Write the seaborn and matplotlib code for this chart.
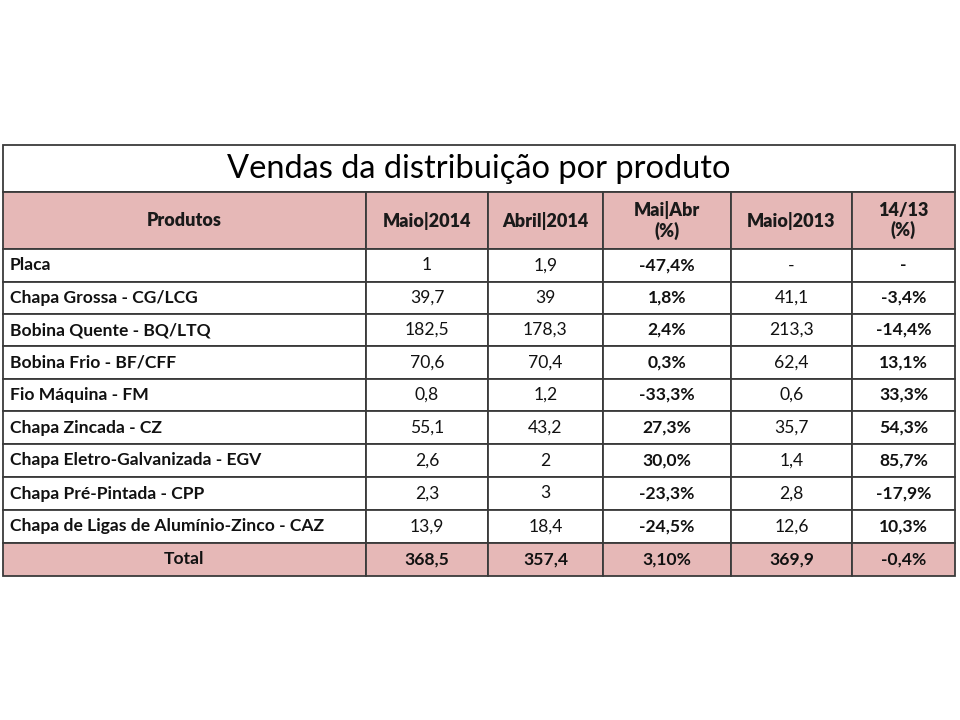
import numpy as np
import matplotlib.pyplot as plt
import seaborn as sns
from matplotlib.patches import Rectangle

sns.set_theme(style="white")
plt.rcParams['font.family'] = ['Lato', 'DejaVu Sans']

titulo = "Vendas da distribuição por produto"
cabecalho = ["Produtos", "Maio|2014", "Abril|2014", "Mai|Abr\n(%)", "Maio|2013", "14/13\n(%)"]
produtos = ["Placa", "Chapa Grossa - CG/LCG", "Bobina Quente - BQ/LTQ", "Bobina Frio - BF/CFF",
            "Fio Máquina - FM", "Chapa Zincada - CZ", "Chapa Eletro-Galvanizada - EGV",
            "Chapa Pré-Pintada - CPP", "Chapa de Ligas de Alumínio-Zinco - CAZ"]
maio_2014 = ["1", "39,7", "182,5", "70,6", "0,8", "55,1", "2,6", "2,3", "13,9"]
abril_2014 = ["1,9", "39", "178,3", "70,4", "1,2", "43,2", "2", "3", "18,4"]
mai_abr = ["-47,4%", "1,8%", "2,4%", "0,3%", "-33,3%", "27,3%", "30,0%", "-23,3%", "-24,5%"]
maio_2013 = ["-", "41,1", "213,3", "62,4", "0,6", "35,7", "1,4", "2,8", "12,6"]
var_14_13 = ["-", "-3,4%", "-14,4%", "13,1%", "33,3%", "54,3%", "85,7%", "-17,9%", "10,3%"]
total = ["Total", "368,5", "357,4", "3,10%", "369,9", "-0,4%"]

# layout (pixels)
col_x = [3, 366, 488, 603, 731, 852, 955]
y_title = (145, 192)
y_head = (192, 249)
row_y = [249, 282, 314, 346, 379, 411, 444, 477, 510, 543, 576]
rosa = "#E6B8B7"
borda = "#3a3a3a"

fig = plt.figure(figsize=(9.6, 7.2), dpi=100)
ax = fig.add_axes([0, 0, 1, 1])
ax.set_xlim(0, 960)
ax.set_ylim(720, 0)
ax.axis("off")

def cell(x0, x1, y0, y1, cor="white"):
    ax.add_patch(Rectangle((x0, y0), x1 - x0, y1 - y0, facecolor=cor,
                           edgecolor=borda, linewidth=1.3))

# title
cell(col_x[0], col_x[-1], *y_title)
ax.text((col_x[0] + col_x[-1]) / 2, sum(y_title) / 2 + 1, titulo, ha="center", va="center",
        fontsize=23.5, color="black")

# header
for j, h in enumerate(cabecalho):
    cell(col_x[j], col_x[j + 1], *y_head, cor=rosa)
    ax.text((col_x[j] + col_x[j + 1]) / 2, sum(y_head) / 2, h, ha="center", va="center",
            fontsize=13, fontweight="heavy", color="#1a1a1a", linespacing=1.15)

# body
colunas = [produtos, maio_2014, abril_2014, mai_abr, maio_2013, var_14_13]
negrito = [True, False, False, True, False, True]
for i in range(len(produtos)):
    y0, y1 = row_y[i], row_y[i + 1]
    for j, col in enumerate(colunas):
        cell(col_x[j], col_x[j + 1], y0, y1)
        if j == 0:
            ax.text(col_x[0] + 7, (y0 + y1) / 2, col[i], ha="left", va="center",
                    fontsize=12.6, fontweight="bold", color="#111111")
        else:
            ax.text((col_x[j] + col_x[j + 1]) / 2, (y0 + y1) / 2, col[i], ha="center",
                    va="center", fontsize=12.6,
                    fontweight="bold" if negrito[j] else "normal", color="#111111")

# total row
y0, y1 = row_y[-2], row_y[-1]
for j, t in enumerate(total):
    cell(col_x[j], col_x[j + 1], y0, y1, cor=rosa)
    ax.text((col_x[j] + col_x[j + 1]) / 2, (y0 + y1) / 2, t, ha="center", va="center",
            fontsize=12.6, fontweight="bold", color="#111111")

fig.savefig("out.png", dpi=100)
